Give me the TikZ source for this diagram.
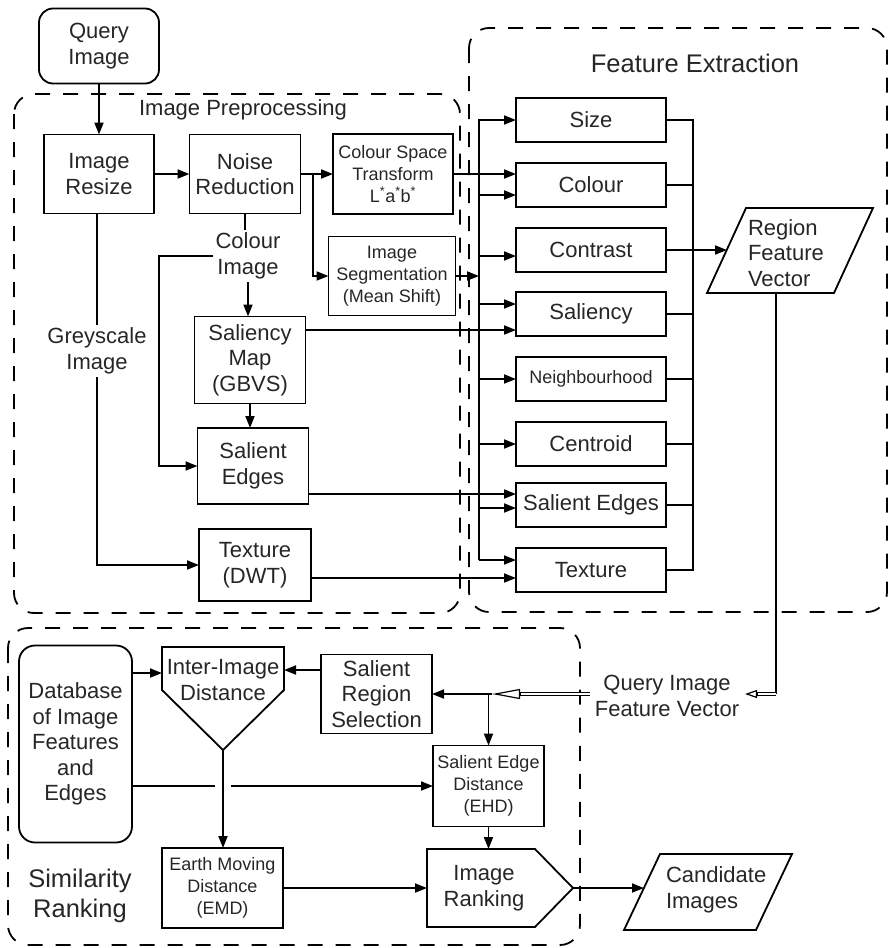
\documentclass[tikz,border=0pt]{standalone}
\usepackage{fontspec}
\setmainfont{Liberation Sans}
\usetikzlibrary{arrows.meta,calc}
\newcommand\dgmain{\fontsize{22}{25.5}\selectfont}
\newcommand\dgsmall{\fontsize{18}{21.7}\selectfont}
\newcommand\dghead{\fontsize{25.5}{30}\selectfont}
\begin{document}
\begin{tikzpicture}[x=1pt,y=-1pt,
  every node/.style={inner sep=0pt, outer sep=0pt, align=center, font=\dgmain, text=black!85},
  box/.style={draw, line width=1.8pt, inner sep=2pt},
  feat/.style={box, minimum width=150pt, minimum height=44pt},
  lbl/.style={inner sep=3pt},
  shp/.style={draw, line width=1.8pt, line join=miter},
  ln/.style={line width=1.8pt},
  arr/.style={line width=1.8pt, -{Triangle[length=12pt,width=9pt]}},
  dbl/.style={double, double distance=2.2pt, line width=1.2pt},
  openS/.style={line width=1.2pt, -{Triangle[open,length=12pt,width=8pt]}},
  openL/.style={line width=1.2pt, -{Triangle[open,length=28pt,width=10pt]}},
  grp/.style={draw, line width=1.8pt, dash pattern=on 15pt off 13pt, rounded corners=20pt}]
\path[use as bounding box] (0,0) rectangle (889,948);

% group frames
\draw[grp] (14,94) rectangle (460,613);
\draw[grp] (469,28) rectangle (887,612);
\draw[grp] (8,628) rectangle (580,945);

\node (tpre) at (243,110) {Image Preprocessing};
\node[font=\dghead] (tfe) at (695,63) {Feature Extraction};
\node[font=\dghead] (tsr) at (80,896) {Similarity\\Ranking};

% preprocessing
\node[box, rounded corners=14pt, minimum width=120pt, minimum height=75pt] (qi) at (99,46) {Query\\Image};
\node[box, minimum width=110pt, minimum height=79pt] (ir) at (99,174) {Image\\Resize};
\node[box, minimum width=111pt, minimum height=79pt] (nr) at (245,174) {Noise\\Reduction};
\node[box, font=\dgsmall, minimum width=120pt, minimum height=80pt] (cst) at (393,174) {Colour Space\\Transform\\L\textsuperscript{*}a\textsuperscript{*}b\textsuperscript{*}};
\node[box, font=\dgsmall, minimum width=127pt, minimum height=79pt] (seg) at (392,276) {Image\\Segmentation\\(Mean Shift)};
\node[lbl] (cil) at (248,256) {Colour\\Image};
\node[box, minimum width=111pt, minimum height=87pt] (sm) at (250,360) {Saliency\\Map\\(GBVS)};
\node[box, minimum width=111pt, minimum height=76pt] (se) at (253,466) {Salient\\Edges};
\node[box, minimum width=112pt, minimum height=72pt] (tx) at (255,565) {Texture\\(DWT)};
\node[lbl] (gil) at (97,351) {Greyscale\\Image};

\draw[arr] (qi.south) -- (qi.south |- ir.north);
\draw[arr] (ir.east) -- (nr.west);
\draw[arr] (nr.east) -- (cst.west);
\coordinate (nbx) at (313,174);
\draw[arr] (nbx) |- (seg.west);
\draw[ln] (nr.south) -- (nr.south |- cil.north);
\draw[arr] (cil.south) -- (cil.south |- sm.north);
\coordinate (cbx) at (159,256);
\draw[arr] (cil.west) -- (cbx) |- (se.west);
\draw[arr] (sm.south) -- (sm.south |- se.north);
\draw[ln] (gil.north |- ir.south) -- (gil.north);
\draw[arr] (gil.south) |- (tx.west);

% features
\node[feat] (fsize) at (591,120) {Size};
\node[feat] (fcol) at (591,185) {Colour};
\node[feat] (fcon) at (591,250) {Contrast};
\node[feat] (fsal) at (591,314) {Saliency};
\node[feat, font=\dgsmall] (fnb) at (591,379) {Neighbourhood};
\node[feat] (fcen) at (591,444) {Centroid};
\node[feat] (fse) at (591,505) {Salient Edges};
\node[feat] (ftx) at (591,570) {Texture};

\coordinate (bx) at (479,0);
\coordinate (rbx) at (693,0);
\coordinate (colA) at ([yshift=11pt]fcol.west);
\coordinate (colB) at ([yshift=-10pt]fcol.west);
\coordinate (conA) at ([yshift=-6pt]fcon.west);
\coordinate (salA) at ([yshift=10pt]fsal.west);
\coordinate (salB) at ([yshift=-16pt]fsal.west);
\coordinate (seA) at ([yshift=11pt]fse.west);
\coordinate (seB) at ([yshift=-3pt]fse.west);
\coordinate (txA) at ([yshift=10pt]ftx.west);
\coordinate (txB) at ([yshift=-8pt]ftx.west);

\draw[arr] (bx |- txA) |- (fsize.west);
\draw[arr] (bx |- txA) -- (txA);
\draw[arr] (bx |- colB) -- (colB);
\draw[arr] (bx |- conA) -- (conA);
\draw[arr] (bx |- salA) -- (salA);
\draw[arr] (bx |- fnb.west) -- (fnb.west);
\draw[arr] (bx |- fcen.west) -- (fcen.west);
\draw[arr] (bx |- seB) -- (seB);
\draw[arr] (cst.east) -- (colA);
\draw[arr] (seg.east) -- (seg.east -| bx);
\draw[arr] (sm.east |- salB) -- (salB);
\draw[arr] (se.east |- seA) -- (seA);
\draw[arr] (tx.east |- txB) -- (txB);

\draw[ln] (fsize.east) -| (rbx |- ftx.east) -- (ftx.east);
\draw[ln] (fcol.east) -- (fcol.east -| rbx);
\draw[ln] (fsal.east) -- (fsal.east -| rbx);
\draw[ln] (fnb.east) -- (fnb.east -| rbx);
\draw[ln] (fcen.east) -- (fcen.east -| rbx);
\draw[ln] (fse.east) -- (fse.east -| rbx);

% region feature vector
\draw[shp] (746,208) -- (873,208) -- (834,293) -- (707,293) -- cycle;
\node[align=left, anchor=west] (rfv) at (748,253) {Region\\Feature\\Vector};
\coordinate (rfvIn) at (727,250);
\coordinate (rfvB) at (776,293);
\draw[arr] (fcon.east) -- (rfvIn);

% query image feature vector
\node[lbl] (qfv) at (667,696) {Query Image\\Feature Vector};
\coordinate (qc) at (776,694);
\coordinate (qh1) at (757,694);
\coordinate (qfvE) at (745,694);
\coordinate (qfvW) at (590,694);
\coordinate (qb) at (520,694);
\coordinate (qt) at (492,694);
\draw[ln] (rfvB) -- (qc);
\draw[dbl] (qc) -- (qh1);
\draw[openS] (qh1) -- (qfvE);
\draw[dbl] (qfvW) -- (qb);
\draw[openL] (qb) -- (qt);

% similarity ranking
\node[box, rounded corners=16pt, minimum width=113pt, minimum height=197pt] (db) at (75.5,744) {Database\\of Image\\Features\\and\\Edges};
\draw[shp] (162,647) -- (284,647) -- (284,690) -- (223,750) -- (162,690) -- cycle;
\node (iid) at (223,680) {Inter-Image\\Distance};
\node[box, minimum width=111pt, minimum height=79pt] (srs) at (376.5,694) {Salient\\Region\\Selection};
\node[box, font=\dgsmall, minimum width=111pt, minimum height=81pt] (sed) at (488.5,786) {Salient Edge\\Distance\\(EHD)};
\node[box, font=\dgsmall, minimum width=121pt, minimum height=80pt] (emd) at (222.5,888) {Earth Moving\\Distance\\(EMD)};
\draw[shp] (427,849) -- (535,849) -- (573,888) -- (535,927) -- (427,927) -- cycle;
\node (irk) at (484,888) {Image\\Ranking};
\draw[shp] (660,854) -- (792,854) -- (756,930) -- (624,930) -- cycle;
\node[align=left, anchor=west] (cand) at (666,890) {Candidate\\Images};

\draw[arr] (qt) -- (srs.east);
\draw[arr] (sed.north |- qt) -- (sed.north);
\coordinate (iidW) at (162,673);
\coordinate (iidE) at (284,670);
\coordinate (iidT) at (223,750);
\draw[arr] (db.east |- iidW) -- (iidW);
\draw[arr] (srs.west |- iidE) -- (iidE);
\draw[arr] (iidT) -- (iidT |- emd.north);
\coordinate (g1) at (215,786);
\coordinate (g2) at (231,786);
\draw[ln] (db.east |- sed.west) -- (g1);
\draw[arr] (g2) -- (sed.west);
\coordinate (irkN) at (489,849);
\coordinate (irkW) at (427,888);
\coordinate (irkT) at (573,888);
\coordinate (candW) at (644,888);
\draw[arr] (sed.south) -- (sed.south |- irkN);
\draw[arr] (emd.east) -- (irkW);
\draw[arr] (irkT) -- (candW);
\end{tikzpicture}
\end{document}
